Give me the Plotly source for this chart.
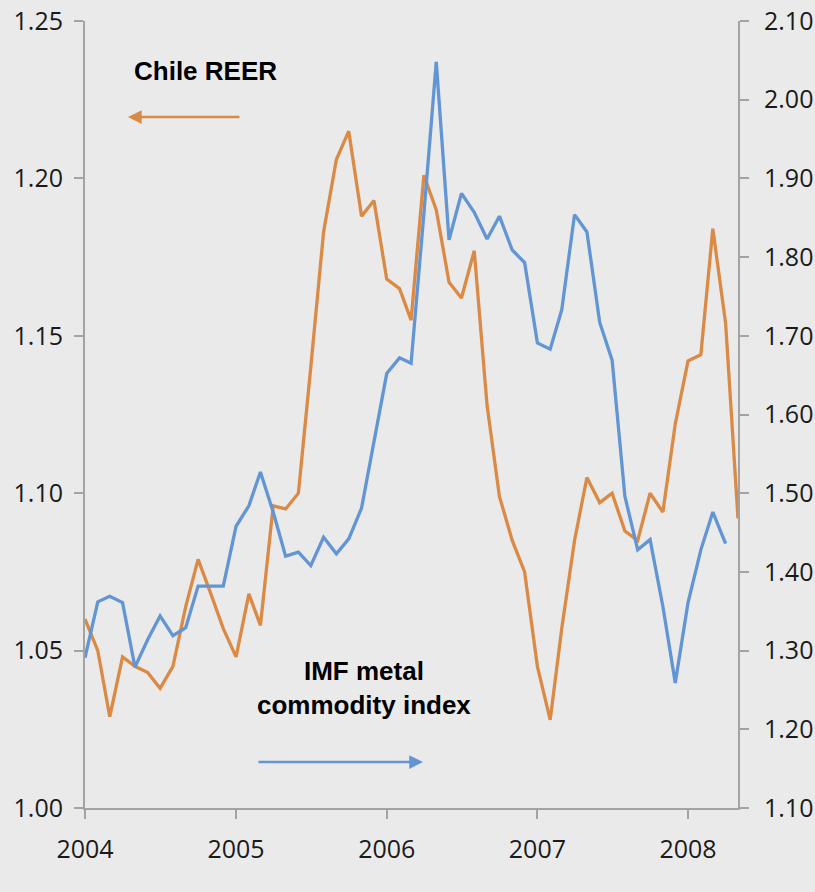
import plotly.graph_objects as go

# Monthly observations, Jan 2004 onwards
months = [f"{2004 + i // 12}-{i % 12 + 1:02d}-01" for i in range(53)]

chile_reer = [1.060, 1.050, 1.029, 1.048, 1.045, 1.043, 1.038, 1.045, 1.064, 1.079,
              1.068, 1.057, 1.048, 1.068, 1.058, 1.096, 1.095, 1.100, 1.140, 1.183,
              1.206, 1.215, 1.188, 1.193, 1.168, 1.165, 1.155, 1.201, 1.190, 1.167,
              1.162, 1.177, 1.128, 1.099, 1.085, 1.075, 1.045, 1.028, 1.057, 1.085,
              1.105, 1.097, 1.100, 1.088, 1.085, 1.100, 1.094, 1.122, 1.142, 1.144,
              1.184, 1.154, 1.092]

imf_metal = [1.291, 1.362, 1.369, 1.361, 1.279, 1.314, 1.344, 1.319, 1.329, 1.382,
             1.382, 1.382, 1.458, 1.484, 1.527, 1.476, 1.420, 1.425, 1.408, 1.444,
             1.423, 1.442, 1.481, 1.564, 1.652, 1.672, 1.665, 1.855, 2.048, 1.822,
             1.881, 1.857, 1.823, 1.852, 1.809, 1.793, 1.691, 1.683, 1.733, 1.854,
             1.832, 1.717, 1.669, 1.496, 1.428, 1.441, 1.356, 1.259, 1.361, 1.428,
             1.476, 1.436]

year_ticks = ["2004-01-01", "2005-01-01", "2006-01-01", "2007-01-01", "2008-01-01"]
year_labels = ["2004", "2005", "2006", "2007", "2008"]

ORANGE = "#DA8A45"
BLUE = "#6295D4"
AXIS = "#A3A3A3"
BG = "#EAEAEA"
TICKFONT = dict(family="Open Sans", size=25, color="#1A1A1A")

fig = go.Figure()
fig.add_trace(go.Scatter(x=months, y=chile_reer, mode="lines", name="Chile REER",
                         line=dict(color=ORANGE, width=3.3), yaxis="y"))
fig.add_trace(go.Scatter(x=months[:len(imf_metal)], y=imf_metal, mode="lines",
                         name="IMF metal commodity index",
                         line=dict(color=BLUE, width=3.3), yaxis="y2"))

common = dict(showgrid=False, zeroline=False, showline=True, linecolor=AXIS, linewidth=2,
              ticks="outside", ticklen=9, tickwidth=2, tickcolor=AXIS,
              tickfont=TICKFONT, automargin=False)

fig.update_layout(
    width=815, height=892,
    autosize=False,
    margin=dict(l=85, r=77, t=21, b=84, autoexpand=False),
    paper_bgcolor=BG, plot_bgcolor=BG,
    showlegend=False,
    xaxis=dict(range=["2004-01-01", "2008-05-01"], tickvals=year_ticks, ticktext=year_labels,
               ticklabelstandoff=9, **common),
    yaxis=dict(range=[1.00, 1.25], dtick=0.05, tickformat=".2f",
               ticklabelstandoff=6, **common),
    yaxis2=dict(range=[1.10, 2.10], dtick=0.1, tickformat=".2f", overlaying="y", side="right",
                ticklabelstandoff=10, **common),
)

LABELFONT = dict(family="Liberation Sans", size=26, color="#000000")
fig.add_annotation(text="<b>Chile REER</b>", xref="paper", yref="paper",
                   x=0.1845, y=0.9365, xanchor="center", yanchor="middle",
                   showarrow=False, font=LABELFONT)
fig.add_annotation(text="<b>IMF metal<br>commodity index</b>", xref="paper", yref="paper",
                   x=0.4273, y=0.1525, xanchor="center", yanchor="middle",
                   showarrow=False, font=LABELFONT, align="center")

# Direction arrows
fig.add_annotation(text="", xref="paper", yref="paper", x=0.0658, y=0.878,
                   ax=113, ay=0, showarrow=True, arrowhead=2, arrowsize=1.1,
                   arrowwidth=2.5, arrowcolor=ORANGE)
fig.add_annotation(text="", xref="paper", yref="paper", x=0.5176, y=0.0584,
                   ax=-166, ay=0, showarrow=True, arrowhead=2, arrowsize=1.1,
                   arrowwidth=2.5, arrowcolor=BLUE)

fig.write_html("out.html", config={"displayModeBar": False},
               post_script="document.body.style.margin='0';document.body.style.overflow='hidden';")
